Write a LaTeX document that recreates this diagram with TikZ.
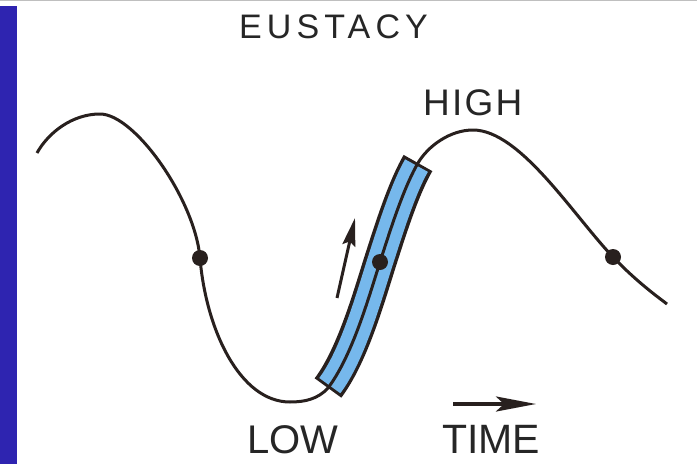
\documentclass[tikz,border=0pt]{standalone}
\usepackage{fontspec}
\setmainfont{Liberation Sans}
\usetikzlibrary{arrows.meta}
\definecolor{stripblue}{RGB}{46,36,176}
\definecolor{bandblue}{RGB}{118,184,236}
\definecolor{ink}{RGB}{40,32,30}
\definecolor{txt}{RGB}{38,38,38}
\begin{document}
\begin{tikzpicture}[x=1pt,y=-1pt,line join=round,
  curve/.style={draw=ink,line width=3pt},
  dot/.style={circle,fill=ink,inner sep=0pt,minimum size=16pt},
  lbl/.style={anchor=base west,inner sep=0pt,text=txt},
  arr/.style={draw=ink,line width=3pt,-{Stealth[length=28pt,width=13pt,inset=4pt]}}]
\useasboundingbox (0,0) rectangle (697,464);
\fill[white] (0,0) rectangle (697,464);
\fill[stripblue] (0,6) rectangle (17,464);
\draw[gray!50,line width=1pt] (0,0.5) -- (697,0.5);
% band
\path[draw=ink,line width=33pt] (328,388) .. controls (352,356) and (368,300) .. (380,262) .. controls (390,231) and (403,189) .. (418,163);
\path[draw=bandblue,line width=26pt,shorten <=3pt,shorten >=3pt] (328,388) .. controls (352,356) and (368,300) .. (380,262) .. controls (390,231) and (403,189) .. (418,163);
% curve
\path[curve] (37,153) .. controls (48,133) and (72,114) .. (100,114)
  .. controls (135,114) and (195,200) .. (200,258)
  .. controls (206,330) and (240,402) .. (290,402)
  .. controls (305,402) and (318,399) .. (328,388)
  .. controls (352,356) and (368,300) .. (380,262)
  .. controls (390,231) and (403,189) .. (418,163)
  .. controls (428,146) and (450,130) .. (473,130)
  .. controls (520,130) and (573,215) .. (613,257)
  .. controls (635,280) and (655,295) .. (667,304);
% dots
\node[dot] (d1) at (200,258) {};
\node[dot] (d2) at (380,262) {};
\node[dot] (d3) at (613,257) {};
% arrows
\coordinate (a1) at (337,298);
\coordinate (a2) at (355,218);
\draw[arr] (a1) -- (a2);
\coordinate (t1) at (453,404);
\coordinate (t2) at (536,404);
\draw[arr,line width=3.6pt,-{Stealth[length=40pt,width=15pt,inset=8pt]}] (t1) -- (t2);
% labels
\node[lbl,font=\fontsize{34}{34}\selectfont\addfontfeature{LetterSpace=15}] (eus) at (239,38) {EUSTACY};
\node[lbl,font=\fontsize{37}{37}\selectfont\addfontfeature{LetterSpace=6}] (high) at (423,115) {HIGH};
\node[lbl,font=\fontsize{40}{40}\selectfont] (low) at (247,453) {LOW};
\node[lbl,font=\fontsize{41}{41}\selectfont] (time) at (442,453) {TIME};
\end{tikzpicture}
\end{document}
